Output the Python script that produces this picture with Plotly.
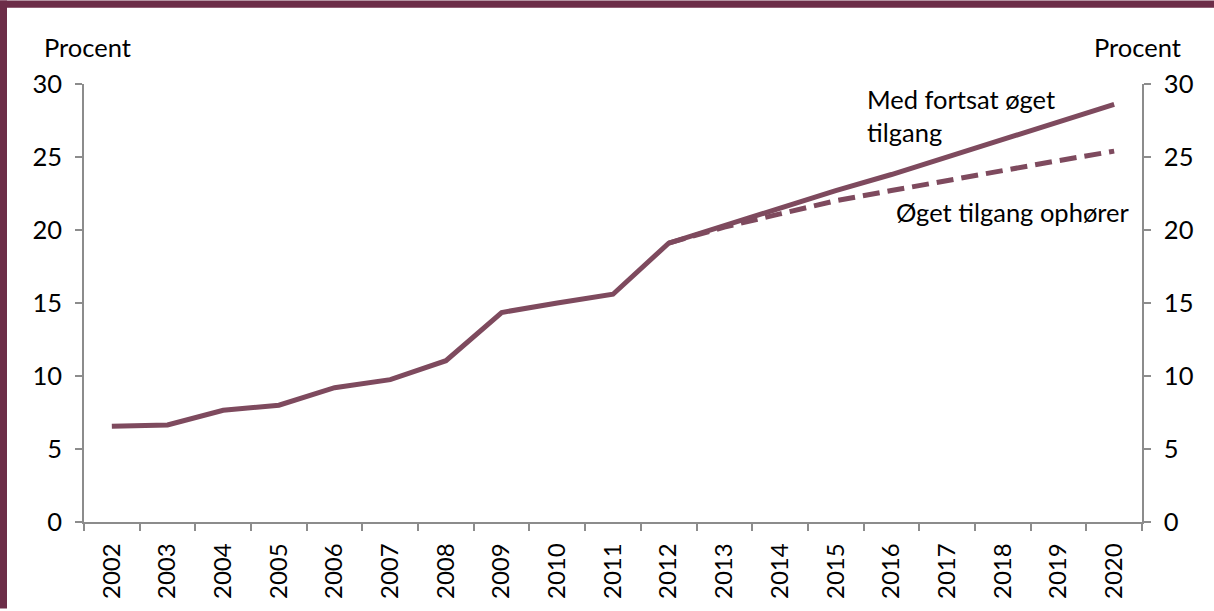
import plotly.graph_objects as go

years = [str(y) for y in range(2002, 2021)]
med_fortsat = [6.55, 6.65, 7.65, 8.0, 9.2, 9.75, 11.05, 14.35, 15.0, 15.6, 19.1,
               20.3, 21.5, 22.7, 23.8, 25.0, 26.2, 27.4, 28.6]
ophoerer = [None, None, None, None, None, None, None, None, None, None, 19.1,
            20.2, 21.1, 22.0, 22.7, 23.4, 24.1, 24.75, 25.4]
y_ticks = [0, 5, 10, 15, 20, 25, 30]

LINE = "#7E4A5E"
FRAME = "#6C2D48"
AX = "#8C8C8C"
FONT = "Lato"
FS = 25.5
FSX = 24

fig = go.Figure()
fig.add_trace(go.Scatter(x=years, y=med_fortsat, mode="lines",
                         line=dict(color=LINE, width=5), yaxis="y",
                         name="Med fortsat øget tilgang", showlegend=False))
fig.add_trace(go.Scatter(x=years, y=ophoerer, mode="lines",
                         line=dict(color=LINE, width=5, dash="17px,8px"), yaxis="y2",
                         name="Øget tilgang ophører", showlegend=False))

axis_common = dict(range=[0, 30], tickvals=y_ticks, showgrid=False, zeroline=False,
                   showline=True, linecolor=AX, linewidth=1.5, ticks="outside",
                   ticklen=7, tickcolor=AX, tickwidth=1.5, ticklabelstandoff=8,
                   tickfont=dict(family=FONT, size=FS, color="#000"))

W, H = 1214, 611
L, R, T, B = 84, 72, 84, 87
PW, PH = W - L - R, H - T - B

fig.update_layout(
    width=W, height=H,
    margin=dict(l=L, r=R, t=T, b=B),
    paper_bgcolor="white", plot_bgcolor="white",
    font=dict(family=FONT, size=FS, color="#000"),
    xaxis=dict(type="category", tickson="boundaries", showgrid=False, showline=True,
               linecolor=AX, linewidth=1.5, ticks="outside", ticklen=7, tickcolor=AX,
               tickwidth=1.5, tickangle=-90, range=[-0.5, 18.5], ticklabelstandoff=10,
               tickfont=dict(family=FONT, size=FSX, color="#000")),
    yaxis=dict(side="left", **axis_common),
    yaxis2=dict(side="right", overlaying="y", **axis_common),
    shapes=[
        dict(type="rect", xref="paper", yref="paper", x0=-L/PW, x1=1+R/PW,
             y0=1+(T-7.5)/PH, y1=1+T/PH, fillcolor=FRAME, line=dict(width=0), layer="above"),
        dict(type="rect", xref="paper", yref="paper", x0=-L/PW, x1=-(L-7)/PW,
             y0=-B/PH, y1=1+T/PH, fillcolor=FRAME, line=dict(width=0), layer="above"),
    ],
    annotations=[
        dict(text="Procent", xref="paper", yref="paper", x=-(L-42)/PW, y=1+37/PH,
             xanchor="left", yanchor="middle", showarrow=False,
             font=dict(family=FONT, size=FS, color="#000")),
        dict(text="Procent", xref="paper", yref="paper", x=1+(1183-1142)/PW, y=1+37/PH,
             xanchor="right", yanchor="middle", showarrow=False,
             font=dict(family=FONT, size=FS, color="#000")),
        dict(text="Med fortsat øget<br>tilgang", xref="paper", yref="paper", x=(865-L)/PW,
             y=(524-82)/PH, xanchor="left", yanchor="top", align="left", showarrow=False,
             font=dict(family=FONT, size=FS, color="#000")),
        dict(text="Øget tilgang ophører", xref="paper", yref="paper", x=(1132-L)/PW,
             y=(524-213)/PH, xanchor="right", yanchor="middle", showarrow=False,
             font=dict(family=FONT, size=FS, color="#000")),
    ],
)

fig.write_html("out.html", config={"displayModeBar": False},
               post_script="document.body.style.margin='0';")
